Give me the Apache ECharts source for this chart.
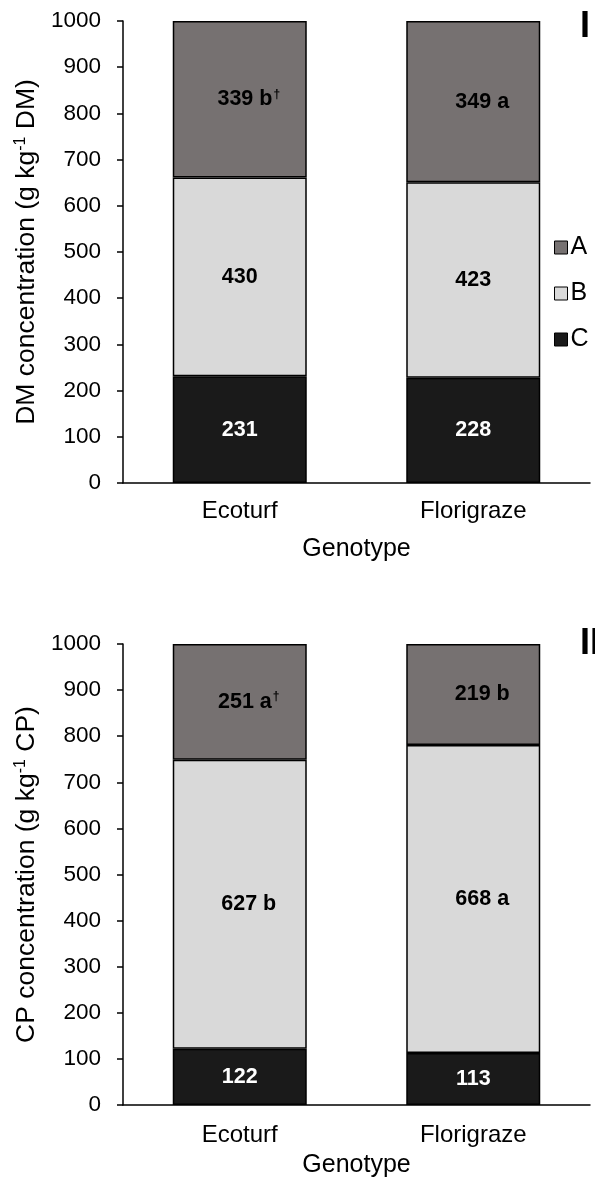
<!DOCTYPE html>
<html>
<head>
<meta charset="utf-8">
<script src="https://cdn.jsdelivr.net/npm/echarts@6/dist/echarts.min.js"></script>
<style>
  html, body { margin: 0; padding: 0; background: #fff; }
  #container { width: 595px; height: 1186px; }
</style>
</head>
<body>
<div id="container"></div>
<script>
// data
var genotypes = ['Ecoturf', 'Florigraze'];
var fractions = ['A', 'B', 'C'];
var yTicks = [0, 100, 200, 300, 400, 500, 600, 700, 800, 900, 1000];

var dmA = [339, 349];
var dmB = [430, 423];
var dmC = [231, 228];
var dmALetters = ['b', 'a'];
var dmBLetters = ['', ''];

var cpA = [251, 219];
var cpB = [627, 668];
var cpC = [122, 113];
var cpALetters = ['a', 'b'];
var cpBLetters = ['b', 'a'];

// superscript mark on fraction A labels only
var daggers = ['\u2020', ''];
var noMarks = ['', ''];

var FONT = "'Liberation Sans', Arial, sans-serif";
var colA = '#767171', colB = '#D9D9D9', colC = '#1A1A1A';

function labelFmt(letters, marks) {
    return function (p) {
        var t = '' + p.value;
        if (letters[p.dataIndex]) t += ' ' + letters[p.dataIndex];
        var s = '{v|' + t + '}';
        if (marks[p.dataIndex]) s += '{s|' + marks[p.dataIndex] + '}';
        return s;
    };
}

function barSeries(name, idx, values, color, textColor, letters, marks) {
    var hasLetter = letters && letters.some(function (l) { return l; });
    return {
        name: name,
        type: 'bar',
        stack: 'g' + idx,
        xAxisIndex: idx,
        yAxisIndex: idx,
        barWidth: 134,
        data: values,
        itemStyle: { color: color, borderColor: '#000', borderWidth: 1.5 },
        label: {
            show: true,
            position: 'inside',
            offset: hasLetter ? [9, 0] : [0, 0],
            formatter: letters ? labelFmt(letters, marks || noMarks) : '{v|{c}}',
            rich: {
                v: { fontFamily: FONT, fontSize: 21.5, fontWeight: 'bold', color: textColor, lineHeight: 22 },
                s: { fontFamily: FONT, fontSize: 12, fontWeight: 'bold', color: textColor, verticalAlign: 'top', lineHeight: 22, padding: [0, 0, 9, 1] }
            }
        },
        emphasis: { disabled: true }
    };
}

function yAxisOpt(idx, label) {
    return {
        type: 'value',
        gridIndex: idx,
        min: yTicks[0],
        max: yTicks[yTicks.length - 1],
        interval: yTicks[1] - yTicks[0],
        name: '{n|' + label[0] + '}{sup|-1}{n|' + label[1] + '}',
        nameLocation: 'middle',
        nameGap: 77,
        nameTextStyle: {
            rich: {
                n: { fontFamily: FONT, fontSize: 26.5, color: '#000', lineHeight: 28 },
                sup: { fontFamily: FONT, fontSize: 16, color: '#000', verticalAlign: 'top', lineHeight: 28, padding: [0, 0, 10, 0] }
            }
        },
        axisLine: { show: true, lineStyle: { color: '#000', width: 1.5 } },
        axisTick: { show: true, length: 6, lineStyle: { color: '#000', width: 1.5 } },
        axisLabel: { fontFamily: FONT, fontSize: 22.5, color: '#000', margin: 22, formatter: function (v) { return '' + v; } },
        splitLine: { show: false }
    };
}

function xAxisOpt(idx, labelMargin, nameGap) {
    return {
        type: 'category',
        gridIndex: idx,
        data: genotypes,
        name: 'Genotype',
        nameLocation: 'middle',
        nameGap: nameGap,
        nameTextStyle: { fontFamily: FONT, fontSize: 25, color: '#000' },
        axisLine: { lineStyle: { color: '#000', width: 1.5 } },
        axisTick: { show: false },
        axisLabel: { fontFamily: FONT, fontSize: 24, color: '#000', margin: labelMargin }
    };
}

var myChart = echarts.init(document.getElementById('container'));
var option = {
    animation: false,
    backgroundColor: '#fff',
    title: [
        { text: 'I', left: 580, top: 9, padding: 0, textStyle: { fontFamily: FONT, fontSize: 36, fontWeight: 'bold', color: '#000' } },
        { text: 'II', left: 580, top: 626, padding: 0, textStyle: { fontFamily: FONT, fontSize: 36, fontWeight: 'bold', color: '#000' } }
    ],
    legend: {
        data: fractions,
        orient: 'vertical',
        left: 554,
        top: 235,
        padding: 0,
        itemWidth: 13,
        itemHeight: 13,
        itemGap: 21,
        icon: 'rect',
        itemStyle: { borderColor: '#000', borderWidth: 1 },
        textStyle: { fontFamily: FONT, fontSize: 25, color: '#000', lineHeight: 25, padding: [0, 0, 0, -2] },
        selectedMode: false
    },
    grid: [
        { left: 123, top: 21, width: 467, height: 462 },
        { left: 123, top: 644, width: 467, height: 461 }
    ],
    xAxis: [xAxisOpt(0, 16, 54), xAxisOpt(1, 18, 48)],
    yAxis: [
        yAxisOpt(0, ['DM concentration (g kg', ' DM)']),
        yAxisOpt(1, ['CP concentration (g kg', ' CP)'])
    ],
    series: [
        barSeries('C', 0, dmC, colC, '#fff', null),
        barSeries('B', 0, dmB, colB, '#000', dmBLetters),
        barSeries('A', 0, dmA, colA, '#000', dmALetters, daggers),
        barSeries('C', 1, cpC, colC, '#fff', null),
        barSeries('B', 1, cpB, colB, '#000', cpBLetters),
        barSeries('A', 1, cpA, colA, '#000', cpALetters, daggers)
    ]
};
myChart.setOption(option);
</script>
</body>
</html>
